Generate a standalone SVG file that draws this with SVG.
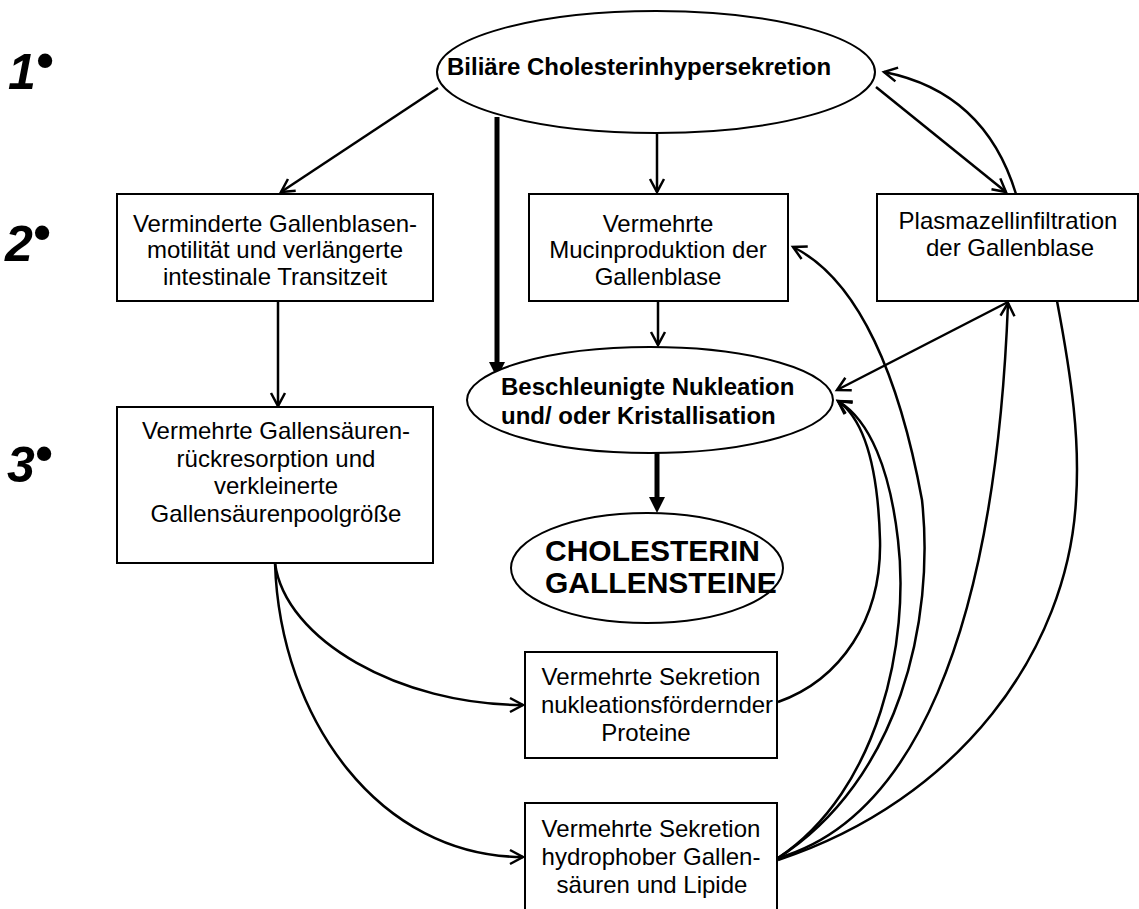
<svg xmlns="http://www.w3.org/2000/svg" width="1139" height="909" viewBox="0 0 1139 909">
<style>
.box{fill:#fff;stroke:#000;stroke-width:2}
.ell{fill:#fff;stroke:#000;stroke-width:2}
.t{font-family:"Liberation Sans",Arial,sans-serif;font-size:24px;fill:#000}
.tc{text-anchor:middle}
.b{font-weight:bold}
.big{font-family:"Liberation Sans",Arial,sans-serif;font-size:30px;font-weight:bold;fill:#000}
.lvl{font-family:"Liberation Sans",Arial,sans-serif;font-size:50px;font-weight:bold;font-style:italic;fill:#000}
.c{fill:none;stroke:#000;stroke-width:2.5}
.thick{fill:none;stroke:#000;stroke-width:5}
</style>
<defs>
<marker id="arr" markerUnits="userSpaceOnUse" viewBox="0 0 16 16" markerWidth="16" markerHeight="16" refX="14" refY="8" orient="auto" overflow="visible">
<path d="M1,1 L14,8 L1,15" fill="none" stroke="#000" stroke-width="2.5"/>
</marker>
<marker id="arrT" markerUnits="userSpaceOnUse" viewBox="0 0 16 16" markerWidth="16" markerHeight="16" refX="2" refY="8" orient="auto">
<path d="M0,0 L16,8 L0,16 Z" fill="#000"/>
</marker>
</defs>
<rect width="1139" height="909" fill="#fff"/>

<g id="levels">
<text class="lvl" x="8" y="89">1<tspan dy="-12">•</tspan></text>
<text class="lvl" x="5" y="261">2<tspan dy="-12">•</tspan></text>
<text class="lvl" x="7" y="482">3<tspan dy="-12">•</tspan></text>
</g>

<g id="connectors">
<path class="c" d="M438,88 L281,192" marker-end="url(#arr)"/>
<path class="c" d="M657,134 L657,192" marker-end="url(#arr)"/>
<path class="c" d="M876,87 L1006,192" marker-end="url(#arr)"/>
<path class="c" d="M1016,194 C995,125 950,85 884,72" marker-end="url(#arr)"/>
<path class="thick" d="M497,117 L497,364" marker-end="url(#arrT)"/>
<path class="c" d="M658,301 L658,345" marker-end="url(#arr)"/>
<path class="c" d="M278,301 L278,406" marker-end="url(#arr)"/>
<path class="thick" d="M657,453 L657,499" marker-end="url(#arrT)"/>
<path class="c" d="M1008,302 L837,390" marker-end="url(#arr)"/>
<path class="c" d="M275,563 C285,640 400,705 523,705" marker-end="url(#arr)"/>
<path class="c" d="M275,563 C280,720 380,857 523,857" marker-end="url(#arr)"/>
<path class="c" d="M778,702 C840,680 882,620 880,540 C878,470 865,420 838,401" marker-end="url(#arr)"/>
<path class="c" d="M778,858 C880,790 910,640 898,540 C890,470 870,420 838,401" marker-end="url(#arr)"/>
<path class="c" d="M778,858 C900,780 935,620 922,500 C900,380 860,280 793,247" marker-end="url(#arr)"/>
<path class="c" d="M778,858 C910,820 995,640 1008,303" marker-end="url(#arr)"/>
<path class="c" d="M778,860 C960,800 1068,650 1076,500 C1080,440 1072,380 1057,301"/>
</g>

<g id="n-biliaer">
<ellipse class="ell" cx="656" cy="72" rx="219" ry="61"/>
<text class="t b" x="447" y="75">Biliäre Cholesterinhypersekretion</text>
</g>

<g id="n-motilitaet">
<rect class="box" x="117" y="194" width="316" height="107"/>
<text class="t tc" x="275" y="232">Verminderte Gallenblasen-</text>
<text class="t tc" x="275" y="258">motilität und verlängerte</text>
<text class="t tc" x="275" y="285">intestinale Transitzeit</text>
</g>

<g id="n-mucin">
<rect class="box" x="529" y="194" width="259" height="107"/>
<text class="t tc" x="658" y="232">Vermehrte</text>
<text class="t tc" x="658" y="258">Mucinproduktion der</text>
<text class="t tc" x="658" y="285">Gallenblase</text>
</g>

<g id="n-plasma">
<rect class="box" x="877" y="194" width="261" height="107"/>
<text class="t tc" x="1008" y="229">Plasmazellinfiltration</text>
<text class="t tc" x="1010" y="256">der Gallenblase</text>
</g>

<g id="n-nukleation">
<ellipse class="ell" cx="650" cy="400" rx="183" ry="53"/>
<text class="t b" x="501" y="395">Beschleunigte Nukleation</text>
<text class="t b" x="501" y="424">und/ oder Kristallisation</text>
</g>

<g id="n-gallensaeuren">
<rect class="box" x="117" y="407" width="316" height="156"/>
<text class="t tc" x="276" y="439">Vermehrte Gallensäuren-</text>
<text class="t tc" x="276" y="467">rückresorption und</text>
<text class="t tc" x="276" y="494">verkleinerte</text>
<text class="t tc" x="276" y="522">Gallensäurenpoolgröße</text>
</g>

<g id="n-steine">
<ellipse class="ell" cx="647" cy="568" rx="136" ry="55"/>
<text class="big" x="545" y="561">CHOLESTERIN</text>
<text class="big" x="545" y="593">GALLENSTEINE</text>
</g>

<g id="n-proteine">
<rect class="box" x="525" y="652" width="252" height="106"/>
<text class="t tc" x="651" y="685">Vermehrte Sekretion</text>
<text class="t tc" x="657" y="713">nukleationsfördernder</text>
<text class="t tc" x="646" y="741">Proteine</text>
</g>

<g id="n-lipide">
<rect class="box" x="525" y="803" width="252" height="115"/>
<text class="t tc" x="651" y="837">Vermehrte Sekretion</text>
<text class="t tc" x="651" y="865">hydrophober Gallen-</text>
<text class="t tc" x="652" y="893">säuren und Lipide</text>
</g>
</svg>
